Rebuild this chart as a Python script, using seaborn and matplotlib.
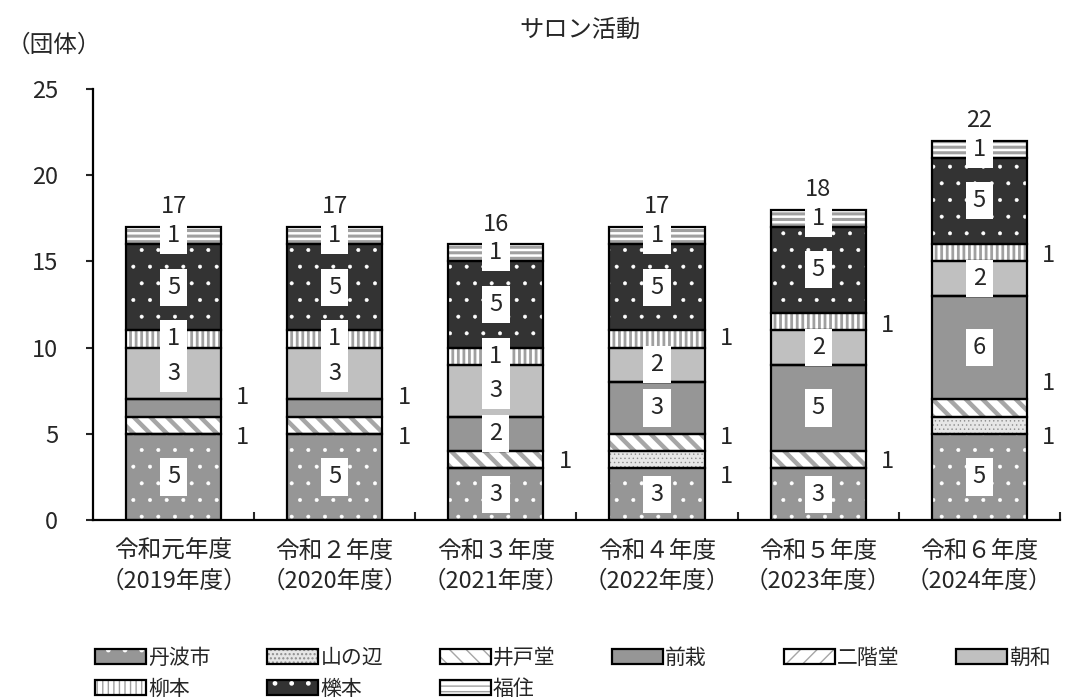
import numpy as np
import pandas as pd
import matplotlib
matplotlib.use("Agg")
import matplotlib.pyplot as plt
import seaborn as sns
from matplotlib.patches import Patch
from matplotlib.legend_handler import HandlerTuple

# ---- data ----
years = ["令和元年度\n（2019年度）", "令和２年度\n（2020年度）", "令和３年度\n（2021年度）",
         "令和４年度\n（2022年度）", "令和５年度\n（2023年度）", "令和６年度\n（2024年度）"]
series_names = ["丹波市", "山の辺", "井戸堂", "前栽", "二階堂", "朝和", "柳本", "櫟本", "福住"]
tanba = [5, 5, 3, 3, 3, 5]
yamanobe = [0, 0, 0, 1, 0, 1]
idodo = [1, 1, 1, 1, 1, 1]
senzai = [1, 1, 2, 3, 5, 6]
nikaido = [0, 0, 0, 0, 0, 0]
asawa = [3, 3, 3, 2, 2, 2]
yanagimoto = [1, 1, 1, 1, 1, 1]
ichinomoto = [5, 5, 5, 5, 5, 5]
fukusumi = [1, 1, 1, 1, 1, 1]
series_values = [tanba, yamanobe, idodo, senzai, nikaido, asawa, yanagimoto, ichinomoto, fukusumi]

# ---- styles: facecolor, hatch colour, hatch, hatch linewidth ----
styles = {
    "丹波市": ("#969696", "white", ".", 0.4),
    "山の辺": ("#e6e6e6", "#8c8c8c", "....", 0.5),
    "井戸堂": ("white", "#a6a6a6", "\\\\", 3.2),
    "前栽": ("#969696", "#969696", "", 1.0),
    "二階堂": ("white", "#a6a6a6", "//", 3.2),
    "朝和": ("#c0c0c0", "#c0c0c0", "", 1.0),
    "柳本": ("white", "#a0a0a0", "|||", 2.0),
    "櫟本": ("#333333", "white", ".", 0.4),
    "福住": ("white", "#a0a0a0", "---", 2.2),
}
# labels drawn to the right of the bar (series, year index) -> vertical nudge
outside_dy = {
    ("井戸堂", 0): -0.7, ("前栽", 0): 0.6,
    ("井戸堂", 1): -0.7, ("前栽", 1): 0.6,
    ("井戸堂", 2): -0.1,
    ("山の辺", 3): -1.0, ("井戸堂", 3): 0.3, ("柳本", 3): 0.05,
    ("井戸堂", 4): -0.1, ("柳本", 4): -0.2,
    ("山の辺", 5): -0.7, ("井戸堂", 5): 1.4, ("柳本", 5): -0.15,
}

sns.set_theme(style="ticks")
plt.rcParams["font.family"] = ["Noto Sans CJK JP", "DejaVu Sans"]
plt.rcParams["axes.unicode_minus"] = False

fig, ax = plt.subplots(figsize=(10.68, 6.99), dpi=100)
fig.subplots_adjust(left=0.087, right=0.9925, bottom=0.256, top=0.873)

bar_w = 0.59
fs = 17
bottom = np.zeros(len(years))
label_jobs = []
for name, vals in zip(series_names, series_values):
    fc, hc, h, hlw = styles[name]
    vals = np.array(vals, dtype=float)
    df = pd.DataFrame({"year": years, "value": vals})
    n_before = len(ax.patches)
    with plt.rc_context({"hatch.linewidth": hlw}):
        sns.barplot(data=df, x="year", y="value", order=years, bottom=bottom,
                    width=bar_w, color=fc, saturation=1, facecolor=fc, edgecolor=hc,
                    hatch=h if h else None, linewidth=0, errorbar=None, ax=ax, zorder=2)
    for p in ax.patches[n_before:]:
        if hasattr(p, "set_hatch_linewidth"):
            p.set_hatch_linewidth(hlw)
    sns.barplot(data=df, x="year", y="value", order=years, bottom=bottom,
                width=bar_w, color="black", saturation=1, facecolor="none",
                edgecolor="black", linewidth=1.6, errorbar=None, ax=ax, zorder=3)
    for i, v in enumerate(vals):
        if v > 0:
            label_jobs.append((name, i, bottom[i], v))
    bottom = bottom + vals

for name, i, b, v in label_jobs:
    txt = f"{int(v)}"
    if (name, i) in outside_dy:
        ax.text(i + 0.43, b + v / 2 + outside_dy[(name, i)], txt, ha="center",
                va="center", fontsize=fs, zorder=6)
    else:
        ax.text(i, b + v / 2, txt, ha="center", va="center", fontsize=fs, zorder=6,
                bbox=dict(boxstyle="square,pad=0.3", fc="white", ec="none"))

for i, tot in enumerate(bottom):
    ax.annotate(f"{int(tot)}", (i, tot), xytext=(0, 6), textcoords="offset points",
                ha="center", va="bottom", fontsize=fs)

ax.set_ylim(0, 25)
ax.set_xlim(-0.5, len(years) - 0.5)
ax.set_yticks(range(0, 26, 5))
ax.set_xlabel("")
ax.set_ylabel("")
ax.tick_params(axis="y", direction="out", length=5, width=1.5, labelsize=fs, pad=20)
ax.tick_params(axis="x", which="major", length=0, labelsize=fs, pad=14)
ax.set_xticks(np.arange(0.5, len(years), 1), minor=True)
ax.tick_params(axis="x", which="minor", direction="in", length=6, width=1.5)
for lab in ax.get_xticklabels():
    lab.set_linespacing(1.4)
sns.despine(ax=ax)
for s in ["left", "bottom"]:
    ax.spines[s].set_color("black")
    ax.spines[s].set_linewidth(1.6)

fig.text(0.543, 0.957, "サロン活動", ha="center", va="center", fontsize=17.5)
fig.text(0.006, 0.935, "（団体）", ha="left", va="center", fontsize=17)

# legend: six columns placed individually so spacing is even
handles = []
for name in series_names:
    fc, hc, h, hlw = styles[name]
    with plt.rc_context({"hatch.linewidth": hlw}):
        hp = Patch(facecolor=fc, edgecolor=hc, hatch=h if h else None, linewidth=0)
    if hasattr(hp, "set_hatch_linewidth"):
        hp.set_hatch_linewidth(hlw)
    outline = Patch(facecolor="none", edgecolor="black", linewidth=1.6)
    handles.append((hp, outline))

x0, dx = 0.089, 0.1613
for j in range(6):
    idx = [j] + ([j + 6] if j + 6 < len(series_names) else [])
    fig.legend([handles[k] for k in idx], [series_names[k] for k in idx],
               handler_map={tuple: HandlerTuple(ndivide=1, pad=0)},
               loc="upper left", bbox_to_anchor=(x0 + j * dx, 0.075),
               frameon=False, fontsize=15, handlelength=2.45, handleheight=0.7,
               handletextpad=0.1, labelspacing=0.45, borderpad=0, borderaxespad=0)

fig.savefig("out.png", dpi=100)
